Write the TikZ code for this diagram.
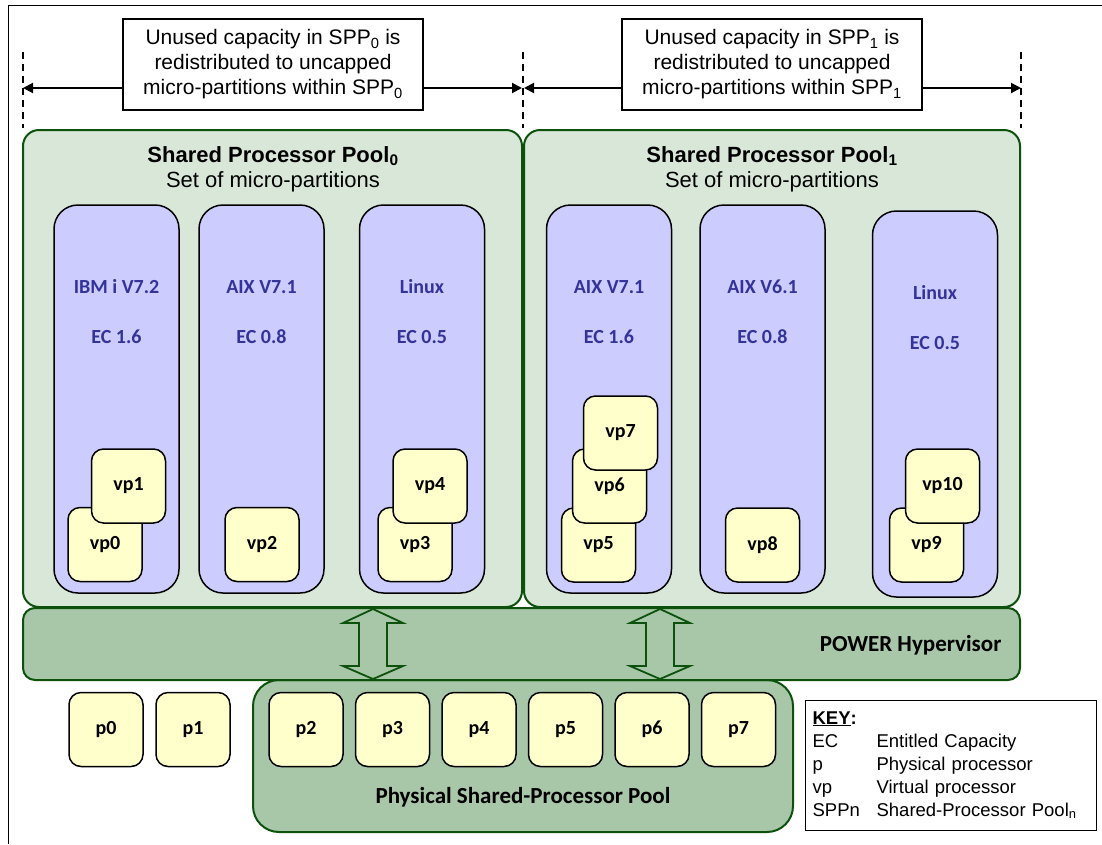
\documentclass[tikz,border=0pt]{standalone}
\usepackage{fontspec}
\setmainfont{Liberation Sans}
\newfontfamily\calibri{Carlito}
\usepackage{tikz}
\usetikzlibrary{arrows.meta, positioning}
\usepackage{xcolor}
\definecolor{poolGreen}{RGB}{217,231,217}
\definecolor{hypGreen}{RGB}{168,199,168}
\definecolor{edgeGreen}{RGB}{12,82,12}
\definecolor{lparBlue}{RGB}{204,204,255}
\definecolor{lparText}{RGB}{51,51,153}
\definecolor{procYellow}{RGB}{255,255,204}

\begin{document}
\begin{tikzpicture}[
  x=1pt, y=-1pt,
  pool/.style={
    rectangle, rounded corners=16pt,
    draw=edgeGreen, fill=#1, line width=2pt
  },
  pooltitle/.style={
    align=center, font=\fontsize{22}{25}\selectfont
  },
  lpar/.style={
    rectangle, rounded corners=24pt,
    draw=black, fill=lparBlue, line width=1.5pt,
    minimum width=125pt, minimum height=388pt
  },
  ostext/.style={
    align=center, text=lparText,
    font=\calibri\bfseries\fontsize{20}{50}\selectfont
  },
  vproc/.style={
    rectangle, rounded corners=12pt,
    draw=black, fill=procYellow, line width=1.5pt,
    minimum width=74pt, minimum height=74pt,
    font=\calibri\bfseries\fontsize{20}{24}\selectfont
  },
  callout/.style={
    rectangle, draw=black, fill=white, line width=1.2pt,
    minimum width=300pt, minimum height=91pt, inner sep=2pt,
    align=center, font=\fontsize{21}{25}\selectfont
  },
  span/.style={-{Triangle[length=10pt, width=10pt]}, line width=2pt},
  guide/.style={dashed, dash pattern=on 7pt off 5pt, line width=1.5pt},
  blockarr/.style={draw=edgeGreen, fill=hypGreen, line width=1.8pt, line join=miter},
  bigtext/.style={font=\calibri\bfseries\fontsize{23}{27}\selectfont}
]
  \useasboundingbox (0,0) rectangle (1102,844);
  \draw[line width=1pt] (8,844) -- (8,5) -- (1102,5);

  % Redistribution spans
  \coordinate (g0) at (23,88);
  \coordinate (g1) at (523,88);
  \coordinate (g2) at (1021,88);
  \foreach \x in {23,523,1021}
    \draw[guide] (\x,52) -- (\x,128);

  \node[callout] (c0) at (273,64.5)
    {Unused capacity in SPP\textsubscript{0} is\\redistributed to uncapped\\micro-partitions within SPP\textsubscript{0}};
  \node[callout] (c1) at (772,64.5)
    {Unused capacity in SPP\textsubscript{1} is\\redistributed to uncapped\\micro-partitions within SPP\textsubscript{1}};

  \draw[span] (c0.west |- g0) -- (g0);
  \draw[span] (c0.east |- g1) -- ([xshift=-1pt]g1);
  \draw[span] (c1.west |- g1) -- ([xshift=1pt]g1);
  \draw[span] (c1.east |- g2) -- (g2);

  % Shared processor pools
  \node[pool=poolGreen, minimum width=499pt, minimum height=477pt] (spp0) at (272.5,368.5) {};
  \node[pool=poolGreen, minimum width=496pt, minimum height=477pt] (spp1) at (772,368.5) {};
  \node[pooltitle] (title0) at (273,169)
    {\textbf{Shared Processor Pool\textsubscript{0}}\\Set of micro-partitions};
  \node[pooltitle] (title1) at (772,169)
    {\textbf{Shared Processor Pool\textsubscript{1}}\\Set of micro-partitions};

  % Micro-partitions
  \node[lpar] (lpar0) at (116.5,399) {};
  \node[lpar] (lpar1) at (261.5,399) {};
  \node[lpar] (lpar2) at (422,399) {};
  \node[lpar] (lpar3) at (609,399) {};
  \node[lpar] (lpar4) at (762.5,399) {};
  \node[lpar, minimum height=386pt] (lpar5) at (935,404) {};

  \node[ostext] (os0) at (116.5,312) {IBM i V7.2\\EC 1.6};
  \node[ostext] (os1) at (261.5,312) {AIX V7.1\\EC 0.8};
  \node[ostext] (os2) at (422,312) {Linux\\EC 0.5};
  \node[ostext] (os3) at (609,312) {AIX V7.1\\EC 1.6};
  \node[ostext] (os4) at (762.5,312) {AIX V6.1\\EC 0.8};
  \node[ostext] (os5) at (935,317.5) {Linux\\EC 0.5};

  % Virtual processors
  \node[vproc] (vp0) at (105,544.5) {vp0};
  \node[vproc] (vp1) at (128.5,486) {vp1};
  \node[vproc] (vp2) at (262,544.5) {vp2};
  \node[vproc] (vp3) at (415,544.5) {vp3};
  \node[vproc] (vp4) at (430,486) {vp4};
  \node[vproc] (vp5) at (598.5,545) {vp5};
  \node[vproc] (vp6) at (609.5,486) {vp6};
  \node[vproc] (vp7) at (620.5,433) {vp7};
  \node[vproc] (vp8) at (762.5,545) {vp8};
  \node[vproc] (vp9) at (926.5,545) {vp9};
  \node[vproc] (vp10) at (942.5,486) {vp10};

  % Physical pool and hypervisor
  \node[pool=hypGreen, rounded corners=26pt, minimum width=540pt, minimum height=152pt] (psp) at (523,756) {};
  \node[pool=hypGreen, rounded corners=12pt, minimum width=997pt, minimum height=72pt] (hyp) at (521.5,644) {};
  \node[bigtext, anchor=east] (hyplabel) at (1005,645) {POWER Hypervisor};
  \node[bigtext] (psplabel) at (523,797) {Physical Shared-Processor Pool};

  \foreach \cx in {373,660}
    \draw[blockarr] (\cx,609) -- ++(30,14) -- ++(-16,0) -- ++(0,43) -- ++(16,0)
      -- (\cx,679) -- ++(-30,-13) -- ++(16,0) -- ++(0,-43) -- ++(-16,0) -- cycle;

  % Physical processors
  \foreach \i/\x in {0/106,1/193,2/306,3/392.5,4/479,5/565.5,6/652,7/738.5}
    \node[vproc] (p\i) at (\x,729.5) {p\i};

  % Key
  \node[draw=black, line width=1.2pt, fill=white, anchor=north west,
        minimum width=291pt, minimum height=130pt, inner sep=7pt,
        text width=277pt, align=left,
        font=\fontsize{18.5}{23}\selectfont] (key) at (805,700)
    {\begin{tabular}{@{}p{64pt}@{}l@{}}
       \underline{\textbf{KEY}}\textbf{:} & \\
       EC & Entitled Capacity\\
       p & Physical processor\\
       vp & Virtual processor\\
       SPPn & Shared-Processor Pool\textsubscript{n}
     \end{tabular}};
\end{tikzpicture}
\end{document}
